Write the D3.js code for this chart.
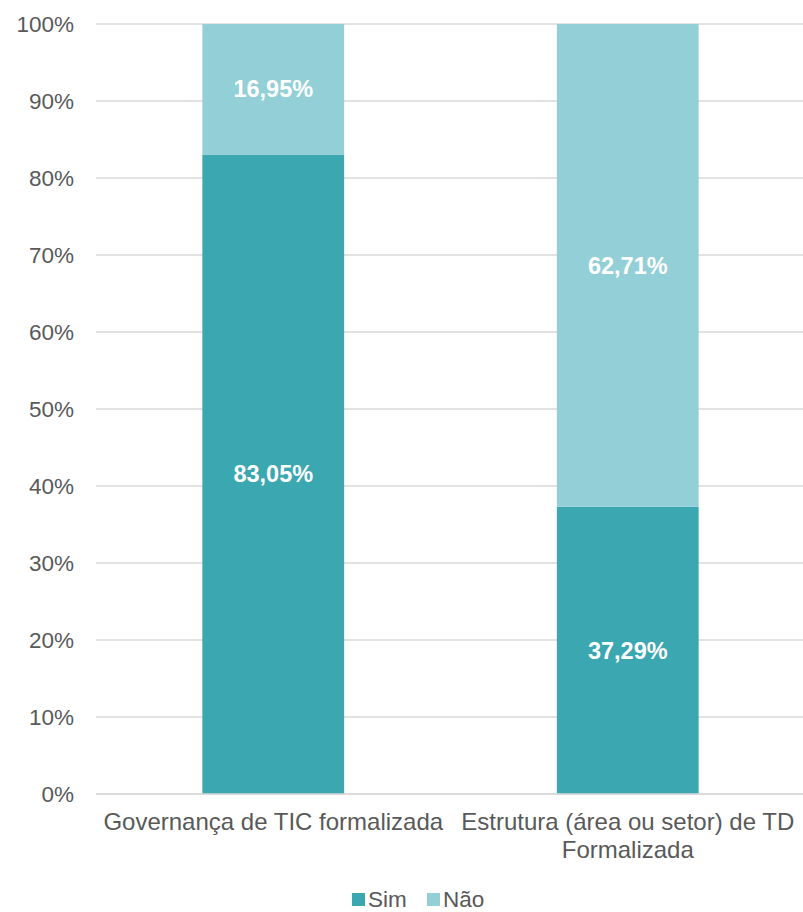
<!DOCTYPE html>
<html><head><meta charset="utf-8">
<script src="https://cdn.jsdelivr.net/npm/d3@7"></script>
<style>body{margin:0;background:#fff}svg{display:block;font-family:"Liberation Sans",Arial,sans-serif}</style>
</head><body>
<svg id="c" width="803" height="912"></svg>
<script>
const categories = [["Governança de TIC formalizada"], ["Estrutura (área ou setor) de TD", "Formalizada"]];
const seriesNames = ["Sim", "Não"];
const sim = [83.05, 37.29];
const nao = [16.95, 62.71];
const simLabels = ["83,05%", "37,29%"];
const naoLabels = ["16,95%", "62,71%"];
const yTicks = [0,10,20,30,40,50,60,70,80,90,100];
const colors = ["#3BA7B1", "#93CFD7"];

(function(){
const svg = d3.select("#c");
const mLeft = 96, mRight = 805, mTop = 24, mBottom = 794;
const x = d3.scaleBand().domain([0,1]).range([mLeft, mRight]).paddingInner(0.6).paddingOuter(0.3);
const y = d3.scaleLinear().domain([0,100]).range([mBottom, mTop]);

svg.append("g").selectAll("line").data(yTicks).join("line")
  .attr("x1", mLeft).attr("x2", 803).attr("y1", d=>y(d)).attr("y2", d=>y(d))
  .attr("stroke", "#D9D9D9").attr("stroke-width", 1.5);

svg.append("g").selectAll("text").data(yTicks).join("text")
  .attr("x", 74).attr("y", d=>y(d)).attr("dy", "0.35em").attr("text-anchor", "end")
  .attr("font-size", 22.5).attr("fill", "#595959").text(d=>d+"%");

const data = [0,1].map(i=>({i, segs:[{s:0,v0:0,v1:sim[i],lab:simLabels[i]},{s:1,v0:sim[i],v1:sim[i]+nao[i],lab:naoLabels[i]}]}));
const g = svg.append("g");
data.forEach(d=>{
  d.segs.forEach(s=>{
    const v1 = Math.min(s.v1,100);
    g.append("rect").attr("x", x(d.i)).attr("width", x.bandwidth())
      .attr("y", y(v1)).attr("height", y(s.v0)-y(v1))
      .attr("fill", colors[s.s]);
    g.append("text").attr("x", x(d.i)+x.bandwidth()/2).attr("y", y((s.v0+v1)/2))
      .attr("dy","0.35em").attr("text-anchor","middle").attr("font-size",23.5).attr("font-weight","bold")
      .attr("fill","#fff").text(s.lab);
  });
});
svg.append("line").attr("x1",mLeft).attr("x2",803).attr("y1",y(0)).attr("y2",y(0)).attr("stroke","#D9D9D9").attr("stroke-width",1.5);

categories.forEach((lines,i)=>{
  const cx = x(i)+x.bandwidth()/2;
  const t = svg.append("text").attr("x", cx).attr("y", 830).attr("text-anchor","middle")
    .attr("font-size",24).attr("fill","#595959");
  lines.forEach((l,j)=>t.append("tspan").attr("x", cx).attr("dy", j===0?0:28).text(l));
});

const leg = svg.append("g");
const items = [{n:seriesNames[0], x:352, c:colors[0]},{n:seriesNames[1], x:427, c:colors[1]}];
items.forEach(it=>{
  leg.append("rect").attr("x", it.x).attr("y", 893).attr("width",13).attr("height",13).attr("fill", it.c);
  leg.append("text").attr("x", it.x+16).attr("y", 899).attr("dy","0.35em").attr("font-size",22.5).attr("fill","#595959").text(it.n);
});
})();
</script>
</body></html>
